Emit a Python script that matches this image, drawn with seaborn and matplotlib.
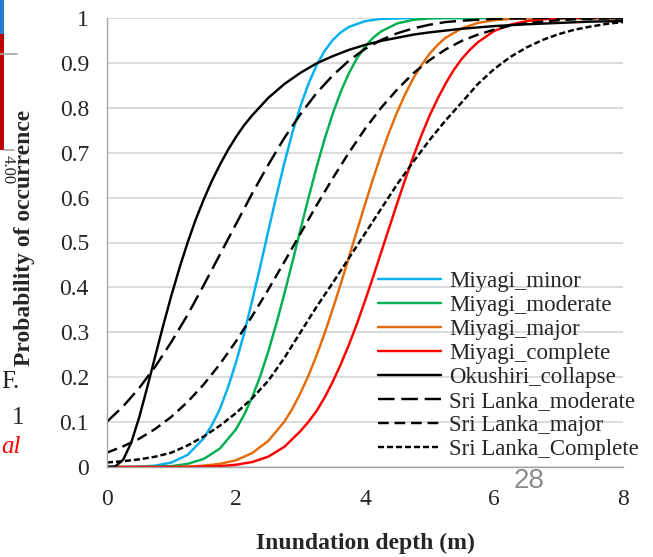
import numpy as np
import pandas as pd
import matplotlib
matplotlib.use("Agg")
import matplotlib.pyplot as plt
import seaborn as sns
from matplotlib.patches import Rectangle
from matplotlib.lines import Line2D

# common depth grid (m) used for the gentler Sri Lanka curves
depth = [0, 0.25, 0.5, 0.75, 1, 1.25, 1.5, 1.75, 2, 2.25, 2.5, 2.75, 3, 3.25, 3.5, 3.75,
         4, 4.25, 4.5, 4.75, 5, 5.25, 5.5, 5.75, 6, 6.25, 6.5, 6.75, 7, 7.25, 7.5, 7.75, 8]

# steep curves were read at closer depths
minor_depth = [0, 0.25, 0.5, 0.75, 1, 1.25, 1.5, 1.625, 1.75, 1.875, 2, 2.125, 2.25, 2.375,
               2.5, 2.625, 2.75, 2.875, 3, 3.125, 3.25, 3.375, 3.5, 3.625, 3.75, 4, 4.25,
               4.5, 4.75, 5, 6, 7, 8]
miyagi_minor = [0, 0, 0.001, 0.003, 0.010, 0.027, 0.064, 0.093, 0.129, 0.177, 0.233, 0.297,
                0.370, 0.446, 0.525, 0.603, 0.677, 0.745, 0.804, 0.854, 0.895, 0.927, 0.951,
                0.968, 0.980, 0.993, 0.998, 0.999, 1, 1, 1, 1, 1]

moderate_depth = [0, 0.5, 1, 1.25, 1.5, 1.75, 2, 2.125, 2.25, 2.375, 2.5, 2.625, 2.75, 2.875,
                  3, 3.125, 3.25, 3.375, 3.5, 3.625, 3.75, 3.875, 4, 4.125, 4.25, 4.5, 4.75,
                  5, 5.25, 6, 7, 8]
miyagi_moderate = [0, 0, 0.002, 0.007, 0.018, 0.041, 0.084, 0.116, 0.155, 0.202, 0.257, 0.319,
                   0.386, 0.457, 0.529, 0.600, 0.668, 0.731, 0.787, 0.836, 0.877, 0.910, 0.936,
                   0.956, 0.970, 0.988, 0.996, 0.999, 1, 1, 1, 1]

major_depth = [0, 0.5, 1, 1.25, 1.5, 1.75, 2, 2.25, 2.5, 2.75, 2.875, 3, 3.125, 3.25, 3.375,
               3.5, 3.625, 3.75, 3.875, 4, 4.125, 4.25, 4.375, 4.5, 4.625, 4.75, 4.875, 5,
               5.125, 5.25, 5.5, 5.75, 6, 6.25, 6.5, 6.75, 7, 8]
miyagi_major = [0, 0, 0, 0.001, 0.003, 0.007, 0.015, 0.031, 0.058, 0.101, 0.130, 0.165, 0.204,
                0.249, 0.298, 0.352, 0.408, 0.467, 0.526, 0.585, 0.642, 0.696, 0.746, 0.791,
                0.831, 0.866, 0.895, 0.920, 0.940, 0.956, 0.977, 0.989, 0.995, 0.998, 0.999,
                1, 1, 1]

complete_depth = [0, 0.5, 1, 1.25, 1.5, 1.75, 2, 2.25, 2.5, 2.75, 3, 3.125, 3.25, 3.375, 3.5,
                  3.625, 3.75, 3.875, 4, 4.125, 4.25, 4.375, 4.5, 4.625, 4.75, 4.875, 5,
                  5.125, 5.25, 5.375, 5.5, 5.625, 5.75, 6, 6.25, 6.5, 6.75, 7, 7.25, 8]
miyagi_complete = [0, 0, 0, 0, 0.001, 0.002, 0.005, 0.011, 0.023, 0.045, 0.080, 0.101, 0.125,
                   0.155, 0.190, 0.229, 0.272, 0.319, 0.370, 0.423, 0.478, 0.533, 0.588,
                   0.641, 0.692, 0.739, 0.782, 0.820, 0.854, 0.884, 0.909, 0.929, 0.946,
                   0.971, 0.985, 0.993, 0.997, 0.999, 1, 1]

okushiri_depth = [0, 0.125, 0.25, 0.375, 0.5, 0.625, 0.75, 0.875, 1, 1.125, 1.25, 1.375, 1.5,
                  1.625, 1.75, 1.875, 2, 2.125, 2.25, 2.5, 2.75, 3, 3.25, 3.5, 3.75, 4, 4.25,
                  4.5, 4.75, 5, 5.5, 6, 6.5, 7, 7.5, 8]
okushiri_collapse = [0, 0.001, 0.016, 0.054, 0.111, 0.178, 0.248, 0.317, 0.383, 0.444, 0.500,
                     0.551, 0.596, 0.637, 0.673, 0.706, 0.735, 0.761, 0.783, 0.822, 0.853,
                     0.878, 0.899, 0.915, 0.929, 0.940, 0.949, 0.956, 0.963, 0.968, 0.976,
                     0.982, 0.986, 0.989, 0.992, 0.993]

srilanka_moderate = [0.101, 0.135, 0.176, 0.224, 0.279, 0.339, 0.405, 0.473, 0.541, 0.609,
                     0.673, 0.733, 0.786, 0.833, 0.872, 0.905, 0.931, 0.951, 0.966, 0.977,
                     0.985, 0.991, 0.994, 0.996, 0.998, 0.999, 0.999, 1, 1, 1, 1, 1, 1]
srilanka_major = [0.032, 0.046, 0.063, 0.085, 0.112, 0.145, 0.184, 0.229, 0.280, 0.336, 0.395,
                  0.457, 0.520, 0.583, 0.643, 0.700, 0.753, 0.800, 0.841, 0.877, 0.906, 0.930,
                  0.949, 0.963, 0.974, 0.983, 0.988, 0.992, 0.995, 0.997, 0.998, 0.999, 0.999]
srilanka_complete = [0.010, 0.013, 0.017, 0.023, 0.032, 0.048, 0.068, 0.092, 0.120, 0.153,
                     0.192, 0.243, 0.300, 0.357, 0.410, 0.465, 0.520, 0.575, 0.630, 0.680,
                     0.728, 0.772, 0.812, 0.853, 0.886, 0.913, 0.934, 0.951, 0.964, 0.974,
                     0.981, 0.987, 0.991]

names = ["Miyagi_minor", "Miyagi_moderate", "Miyagi_major", "Miyagi_complete",
         "Okushiri_collapse", "Sri Lanka_moderate", "Sri Lanka_major", "Sri Lanka_Complete"]
depths = [minor_depth, moderate_depth, major_depth, complete_depth, okushiri_depth,
          depth, depth, depth]
curves = [miyagi_minor, miyagi_moderate, miyagi_major, miyagi_complete,
          okushiri_collapse, srilanka_moderate, srilanka_major, srilanka_complete]

yticks = [0, 0.1, 0.2, 0.3, 0.4, 0.5, 0.6, 0.7, 0.8, 0.9, 1]
ytick_labels = ["0", "0.1", "0.2", "0.3", "0.4", "0.5", "0.6", "0.7", "0.8", "0.9", "1"]
xticks = [0, 2, 4, 6, 8]

colors = ["#00b0f0", "#00b050", "#e46c0a", "#ff0000", "black", "black", "black", "black"]
styles = ["-", "-", "-", "-", "-", (0, (6.8, 2.8)), (0, (4.4, 2.4)), (0, (2.5, 1.2))]

sns.set_style("white")
plt.rcParams["font.family"] = ["Liberation Serif", "DejaVu Serif"]

W, H = 653, 557
fig = plt.figure(figsize=(W / 100, H / 100), dpi=100)
ax = fig.add_axes([107 / W, 1 - 467 / H, 516 / W, 449 / H])

for name, xs, vals, col, ls in zip(names, depths, curves, colors, styles):
    sns.lineplot(x=xs, y=vals, ax=ax, color=col, linestyle=ls, linewidth=1.75,
                 label=name, legend=False)

ax.set_xlim(0, 8)
ax.set_ylim(0, 1)
ax.set_xticks(xticks)
ax.set_xticklabels([str(t) for t in xticks])
ax.set_yticks(yticks)
ax.set_yticklabels(ytick_labels)
ax.yaxis.grid(True, color="#d9d9d9", linewidth=1.3)
ax.xaxis.grid(False)
ax.set_axisbelow(True)
for s in ["top", "right"]:
    ax.spines[s].set_visible(False)
for s in ["left", "bottom"]:
    ax.spines[s].set_color("#a6a6a6")
    ax.spines[s].set_linewidth(1.0)
ax.tick_params(axis="y", direction="out", length=4.5, width=1, color="#a6a6a6",
               labelsize=17, pad=8.5)
ax.tick_params(axis="x", direction="out", length=6.5, width=1, color="#a6a6a6",
               labelsize=17, pad=9)
ax.set_xlabel("")
ax.set_ylabel("")

fig.text(365 / W, 1 - 543 / H, "Inundation depth (m)", ha="center", va="center",
         fontsize=17, fontweight="bold")
fig.text(25 / W, 1 - 238 / H, "Probability of occurrence", ha="center", va="center",
         rotation=90, fontsize=17, fontweight="bold")

handles = [Line2D([], [], color=c, linestyle=ls, linewidth=1.75) for c, ls in zip(colors, styles)]
ax.legend(handles, names, loc="lower left", bbox_to_anchor=(0.525, 0.015), frameon=False,
          fontsize=16.5, handlelength=2.75, handletextpad=0.35, labelspacing=0.13,
          borderaxespad=0, borderpad=0)

# bits of the neighbouring slide that show in the screenshot
fig.add_artist(Rectangle((0, 1 - 34 / H), 4 / W, 34 / H, transform=fig.transFigure,
                         color="#1f7ecf", linewidth=0))
fig.add_artist(Rectangle((0, 1 - 150 / H), 4 / W, 116 / H, transform=fig.transFigure,
                         color="#c00000", linewidth=0))
fig.add_artist(Line2D([0, 17 / W], [1 - 54 / H] * 2, transform=fig.transFigure,
                      color="#a6a6a6", linewidth=1.2))
fig.add_artist(Line2D([4 / W, 14 / W], [1 - 150 / H] * 2, transform=fig.transFigure,
                      color="#a6a6a6", linewidth=1.2))
fig.text(8 / W, 1 - 170 / H, "4.00", ha="center", va="center", rotation=-90, fontsize=12)
fig.text(1 / W, 1 - 382 / H, "F.", ha="left", va="center", fontsize=18)
fig.text(18 / W, 1 - 418 / H, "1", ha="center", va="center", fontsize=18)
fig.text(1 / W, 1 - 447 / H, "al", ha="left", va="center", fontsize=18,
         style="italic", color="red")
fig.text(529 / W, 1 - 481 / H, "28", ha="center", va="center", fontsize=20,
         color="#8c8c8c", family="Liberation Sans")

fig.savefig("out.png", dpi=100)
